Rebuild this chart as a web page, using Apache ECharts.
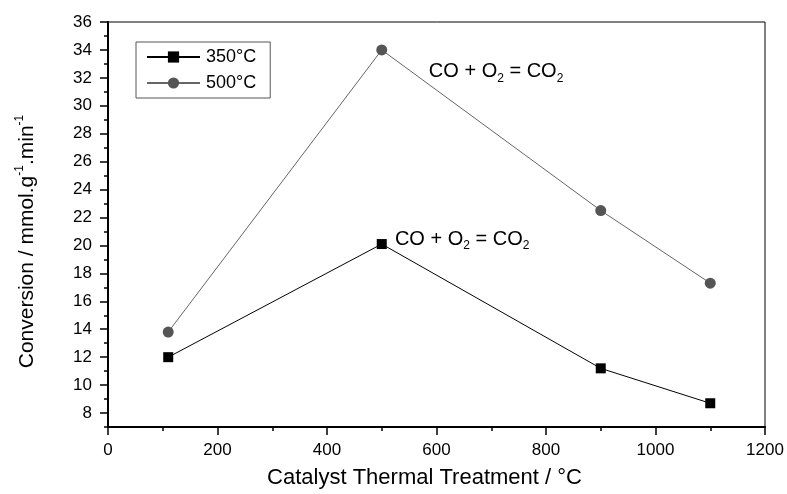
<!DOCTYPE html>
<html>
<head>
<meta charset="utf-8">
<script src="https://cdn.jsdelivr.net/npm/echarts@6/dist/echarts.min.js"></script>
<style>html,body{margin:0;padding:0;background:#fff}#c{width:787px;height:494px}</style>
</head>
<body>
<div id="c"></div>
<script>
const xValues = [110, 500, 900, 1100];
const series350 = [12.0, 20.1, 11.2, 8.7];
const series500 = [13.8, 34.0, 22.5, 17.3];
const seriesNames = ['350°C', '500°C'];
const yMajorTicks = [8,10,12,14,16,18,20,22,24,26,28,30,32,34,36];
const yMinorTicks = [7,9,11,13,15,17,19,21,23,25,27,29,31,33,35];
const annotation1 = [586, 32.45];
const annotation2 = [524, 20.45];

const FONT = 'Liberation Sans, Arial, Helvetica, sans-serif';
const chart = echarts.init(document.getElementById('c'));
const annoLabel = {
  show: true, position: 'right', distance: 0,
  formatter: '{a|CO + O}{s|2}{a| = CO}{s|2}',
  rich: {
    a: {fontSize: 20, fontFamily: FONT, color: '#000', lineHeight: 26},
    s: {fontSize: 12, fontFamily: FONT, color: '#000', lineHeight: 12, verticalAlign: 'bottom'}
  }
};
chart.setOption({
  animation: false,
  backgroundColor: '#fff',
  grid: {left: 108, right: 22, top: 22, bottom: 64, show: true, borderColor: '#000', borderWidth: 1, backgroundColor: 'transparent'},
  legend: {
    left: 136, top: 42, orient: 'vertical',
    borderColor: '#555', borderWidth: 1, padding: [6, 14, 6, 10],
    itemWidth: 53, itemHeight: 14, itemGap: 8,
    textStyle: {fontSize: 18, fontFamily: FONT, color: '#000', padding: [0,0,0,1]},
    data: seriesNames
  },
  xAxis: {
    type: 'value', min: 0, max: 1200, interval: 200,
    name: 'Catalyst Thermal Treatment / °C', nameLocation: 'middle', nameGap: 40,
    nameTextStyle: {fontSize: 22, fontFamily: FONT, color: '#000', padding: [0, 24, 0, 0]},
    axisLine: {show: true, onZero: false, lineStyle: {color: '#000', width: 2}},
    axisTick: {show: true, length: 8, lineStyle: {color: '#000', width: 1.5}},
    minorTick: {show: true, splitNumber: 2, length: 4, lineStyle: {color: '#000', width: 1.5}},
    axisLabel: {fontSize: 17, fontFamily: FONT, color: '#000', margin: 15, formatter: v => String(v)},
    splitLine: {show: false}
  },
  yAxis: [{
    type: 'value', min: 7, max: 36,
    name: '{a|Conversion / mmol.g}{s|-1}{a|.min}{s|-1}', nameLocation: 'middle', nameGap: 68, nameRotate: 90,
    nameTextStyle: {
      padding: [0, 34, 0, 0],
      rich: {
        a: {fontSize: 21, fontFamily: FONT, color: '#000', lineHeight: 26},
        s: {fontSize: 12, fontFamily: FONT, color: '#000', lineHeight: 12, verticalAlign: 'top'}
      }
    },
    axisLine: {show: true, onZero: false, lineStyle: {color: '#000', width: 2}},
    axisTick: {show: true, length: 8, customValues: yMajorTicks, lineStyle: {color: '#000', width: 1.5}},
    axisLabel: {fontSize: 17, fontFamily: FONT, color: '#000', margin: 16, customValues: yMajorTicks},
    splitLine: {show: false}
  }, {
    type: 'value', min: 7, max: 36, position: 'left',
    axisLine: {show: false},
    axisTick: {show: true, length: 4, customValues: yMinorTicks, lineStyle: {color: '#000', width: 1.5}},
    axisLabel: {show: false, customValues: yMinorTicks},
    splitLine: {show: false}
  }],
  series: [{
    name: seriesNames[0], type: 'line', yAxisIndex: 0,
    data: xValues.map((x, i) => [x, series350[i]]),
    symbol: 'rect', symbolSize: 10,
    itemStyle: {color: '#000'},
    lineStyle: {color: '#000', width: 1},
    markPoint: {symbol: 'circle', symbolSize: 0, data: [{coord: annotation2}], label: annoLabel}
  }, {
    name: seriesNames[1], type: 'line', yAxisIndex: 0,
    data: xValues.map((x, i) => [x, series500[i]]),
    symbol: 'circle', symbolSize: 11,
    itemStyle: {color: '#555'},
    lineStyle: {color: '#666', width: 1},
    markPoint: {symbol: 'circle', symbolSize: 0, data: [{coord: annotation1}], label: annoLabel}
  }]
});
</script>
</body>
</html>
